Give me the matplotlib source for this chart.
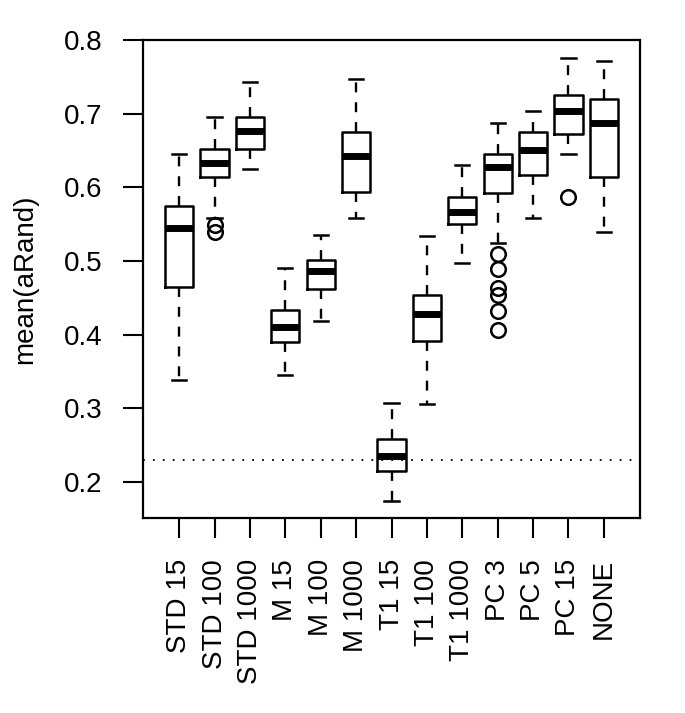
import matplotlib
matplotlib.use("Agg")
import matplotlib.pyplot as plt

plt.rcParams['font.family'] = ['Liberation Sans', 'DejaVu Sans']

labels = ["STD 15", "STD 100", "STD 1000", "M 15", "M 100", "M 1000",
          "T1 15", "T1 100", "T1 1000", "PC 3", "PC 5", "PC 15", "NONE"]
whislo = [0.339, 0.558, 0.625, 0.345, 0.419, 0.558, 0.175, 0.306, 0.498, 0.525, 0.558, 0.645, 0.540]
q1     = [0.465, 0.614, 0.652, 0.390, 0.462, 0.594, 0.2156, 0.391, 0.551, 0.593, 0.617, 0.673, 0.614]
med    = [0.545, 0.633, 0.676, 0.411, 0.486, 0.643, 0.2355, 0.428, 0.567, 0.628, 0.651, 0.704, 0.688]
q3     = [0.575, 0.652, 0.695, 0.433, 0.501, 0.675, 0.259, 0.4535, 0.587, 0.645, 0.675, 0.725, 0.720]
whishi = [0.645, 0.696, 0.743, 0.491, 0.535, 0.747, 0.308, 0.534, 0.631, 0.687, 0.704, 0.776, 0.771]
fliers = [[], [0.549, 0.539], [], [], [], [], [], [], [],
          [0.510, 0.489, 0.464, 0.454, 0.432, 0.406], [], [0.587], []]
hline_value = 0.23
yticks = [0.2, 0.3, 0.4, 0.5, 0.6, 0.7, 0.8]

stats = []
for i in range(len(labels)):
    stats.append(dict(label=labels[i], whislo=whislo[i], q1=q1[i], med=med[i],
                      q3=q3[i], whishi=whishi[i], fliers=fliers[i]))

fig = plt.figure(figsize=(6.85, 7.13), dpi=100)
ax = fig.add_axes([0.2088, 0.2735, 0.7255, 0.6704])

positions = list(range(1, len(labels) + 1))
ax.bxp(stats, positions=positions, widths=0.8, showfliers=True,
       boxprops=dict(color='black', linewidth=1.8),
       medianprops=dict(color='black', linewidth=5, solid_capstyle='butt'),
       whiskerprops=dict(color='black', linewidth=1.7, linestyle=(0, (4.2, 4.2))),
       capprops=dict(color='black', linewidth=1.8),
       capwidths=0.4,
       flierprops=dict(marker='o', markerfacecolor='none', markeredgecolor='black',
                       markersize=10.5, markeredgewidth=1.8, linestyle='none'))

ax.axhline(hline_value, color='black', linewidth=1.3, linestyle=(0, (1, 4.5)), zorder=0)

ax.set_xlim(-0.02, 14.02)
ax.set_ylim(0.1514, 0.80)
ax.set_yticks(yticks)
ax.set_yticklabels([f"{v:.1f}" for v in yticks])
ax.set_xticks(positions)
ax.set_xticklabels(labels, rotation=90)
ax.tick_params(axis='both', length=14.5, width=1.5, pad=15, labelsize=20, color='black')
ax.set_ylabel("mean(aRand)", fontsize=20, labelpad=18)
for s in ax.spines.values():
    s.set_linewidth(1.6)

fig.savefig("out.png", dpi=100)
